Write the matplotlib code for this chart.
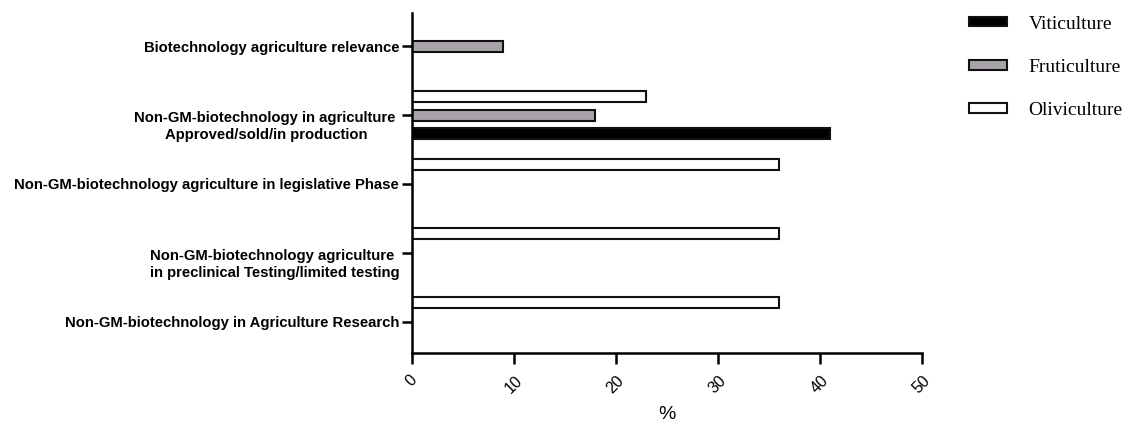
import numpy as np
import matplotlib.pyplot as plt
from matplotlib.patches import Patch

# categories from top to bottom
categorias = [
    "Biotechnology agriculture relevance",
    "Non-GM-biotechnology in agriculture \nApproved/sold/in production",
    "Non-GM-biotechnology agriculture in legislative Phase",
    "Non-GM-biotechnology agriculture \nin preclinical Testing/limited testing",
    "Non-GM-biotechnology in Agriculture Research",
]
series = ["Viticulture", "Fruticulture", "Oliviculture"]
viticulture = [0, 41, 0, 0, 0]
fruticulture = [9, 18, 0, 0, 0]
oliviculture = [0, 23, 36, 36, 36]
xticks = [0, 10, 20, 30, 40, 50]

cores = ["black", "#a7a3a8", "white"]
offsets = [-0.275, 0.0, 0.275]  # viti abaixo, olive acima

plt.rcParams["font.family"] = ["Liberation Sans", "DejaVu Sans"]

fig = plt.figure(figsize=(11.28, 4.25), dpi=100)
ax = fig.add_axes([0.365, 0.169, 0.452, 0.80])

y = np.arange(len(categorias))[::-1]
for valores, cor, off in zip([viticulture, fruticulture, oliviculture], cores, offsets):
    v = np.array(valores, dtype=float)
    mask = v > 0
    ax.barh(y[mask] + off, v[mask], height=0.16, color=cor,
            edgecolor="#111111", linewidth=1.5)

ax.set_xlim(0, 50)
ax.set_ylim(-0.46, 4.48)
ax.set_xticks(xticks)
ax.set_xticklabels([str(t) for t in xticks], rotation=45, fontsize=11.5,
                   ha="center", va="top")
ax.set_yticks(y)
# linha vazia no topo para alinhar a primeira linha com o tick
rotulos = [("\n" + c) if "\n" in c else c for c in categorias]
ax.set_yticklabels(rotulos, fontsize=10.7, fontweight="bold",
                   multialignment="center", linespacing=1.3)
for spine in ["top", "right"]:
    ax.spines[spine].set_visible(False)
for spine in ["left", "bottom"]:
    ax.spines[spine].set_linewidth(1.8)
ax.tick_params(axis="y", length=7, width=1.8, pad=2)
ax.tick_params(axis="x", length=8, width=1.8, pad=6)
ax.set_xlabel("%", fontsize=14, labelpad=7)

handles = [Patch(facecolor=c, edgecolor="#111111", linewidth=1.5) for c in cores]
fig.legend(handles, series, loc="upper left", bbox_to_anchor=(0.845, 1.0),
           frameon=False, prop={"family": "Liberation Serif", "size": 14},
           borderpad=0.3, handlelength=1.95, handleheight=0.38,
           labelspacing=1.35, handletextpad=1.13)

fig.savefig("out.png", dpi=100)
